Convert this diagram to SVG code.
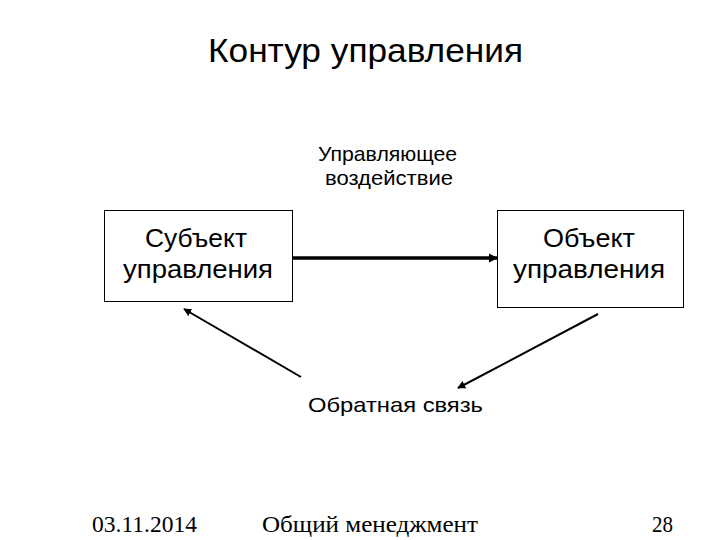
<svg xmlns="http://www.w3.org/2000/svg" width="720" height="540" viewBox="0 0 720 540">
<style>
.s{font-family:"Liberation Sans",Arial,sans-serif;fill:#000}
.t{font-family:"Liberation Serif","Times New Roman",serif;fill:#000;font-size:23px}
.box{fill:#fff;stroke:#000;stroke-width:1}
.ln{stroke:#000;fill:none}
</style>
<defs>
<marker id="ah" viewBox="0 0 10 10" refX="9" refY="5" markerWidth="4" markerHeight="4" orient="auto" markerUnits="strokeWidth">
<path d="M0,0 L10,5 L0,10 z" fill="#000"/>
</marker>
<marker id="ah2" viewBox="0 0 10 10" refX="9" refY="5" markerWidth="2.6" markerHeight="2.6" orient="auto" markerUnits="strokeWidth">
<path d="M0,0 L10,5 L0,10 z" fill="#000"/>
</marker>
</defs>
<rect width="720" height="540" fill="#fff"/>
<text class="s" x="208" y="62" font-size="33" textLength="315" lengthAdjust="spacingAndGlyphs">Контур управления</text>
<g id="subject">
<rect class="box" x="104.5" y="210.5" width="188" height="91"/>
<text class="s" x="145" y="247" font-size="26" textLength="102" lengthAdjust="spacingAndGlyphs">Субъект</text>
<text class="s" x="123" y="278" font-size="26" textLength="150" lengthAdjust="spacingAndGlyphs">управления</text>
</g>
<g id="object">
<rect class="box" x="497.5" y="210.5" width="186" height="97"/>
<text class="s" x="543" y="247" font-size="26" textLength="92" lengthAdjust="spacingAndGlyphs">Объект</text>
<text class="s" x="513" y="278" font-size="26" textLength="152" lengthAdjust="spacingAndGlyphs">управления</text>
</g>
<g id="labels">
<text class="s" x="318" y="161" font-size="21" textLength="139" lengthAdjust="spacingAndGlyphs">Управляющее</text>
<text class="s" x="325" y="185" font-size="21" textLength="128" lengthAdjust="spacingAndGlyphs">воздействие</text>
<text class="s" x="308" y="412" font-size="21" textLength="175" lengthAdjust="spacingAndGlyphs">Обратная связь</text>
</g>
<g id="connectors">
<line class="ln" x1="292" y1="258" x2="497" y2="258" stroke-width="3.5" marker-end="url(#ah2)"/>
<line class="ln" x1="301" y1="377" x2="184" y2="309" stroke-width="2" marker-end="url(#ah)"/>
<line class="ln" x1="598" y1="314" x2="458" y2="388" stroke-width="2" marker-end="url(#ah)"/>
</g>
<g id="footer">
<text class="t" x="92" y="532" textLength="105" lengthAdjust="spacingAndGlyphs">03.11.2014</text>
<text class="t" x="262" y="532" textLength="216" lengthAdjust="spacingAndGlyphs">Общий менеджмент</text>
<text class="t" x="652" y="532" textLength="21" lengthAdjust="spacingAndGlyphs">28</text>
</g>
</svg>
